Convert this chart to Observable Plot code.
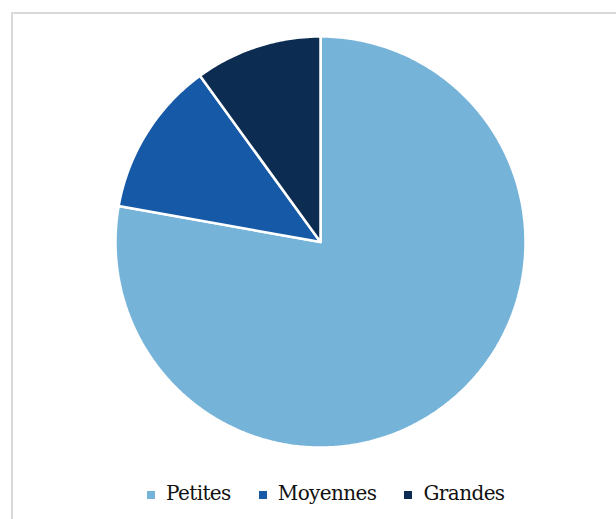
<!DOCTYPE html>
<html>
<head>
<meta charset="utf-8">
<script src="https://cdn.jsdelivr.net/npm/d3@7"></script>
<script src="https://cdn.jsdelivr.net/npm/@observablehq/plot@0.6"></script>
<style>
  html, body { margin: 0; padding: 0; background: #fff; }
  #wrap { position: relative; width: 616px; height: 519px; overflow: hidden; background: #fff; }
  #chart svg { position: absolute; left: 0; top: 0; }
  #frame { position: absolute; left: 11px; top: 12px; right: -10px; bottom: -10px;
           border-top: 2px solid #d9d9d9; border-left: 2px solid #d9d9d9; pointer-events: none; }
  #legend { position: absolute; left: 147px; top: 481px; display: flex; align-items: center;
            font-family: "DejaVu Serif", serif; font-size: 20px; color: #111; white-space: nowrap; letter-spacing: -0.6px; }
  .item { display: flex; align-items: center; margin-right: 28px; }
  .sw { width: 8px; height: 8px; margin-right: 11px; margin-top: 3px; }
</style>
</head>
<body>
<div id="wrap">
  <div id="chart"></div>
  <div id="frame"></div>
  <div id="legend"></div>
</div>
<script>
const categories = ["Petites", "Moyennes", "Grandes"];
const values = [77.8, 12.2, 10.0];
const colors = ["#75b3d9", "#1559a7", "#0d2c51"];

// Build slice outlines from the pie layout (angles clockwise from 12 o'clock)
const arcs = d3.pie().sort(null).value(d => d.value)(
  categories.map((c, i) => ({category: c, value: values[i]}))
);
const pts = [];
for (const a of arcs) {
  const cat = a.data.category;
  pts.push({category: cat, x: 0, y: 0});
  const n = Math.max(2, Math.ceil((a.endAngle - a.startAngle) / (Math.PI / 360)));
  for (let k = 0; k <= n; k++) {
    const t = a.startAngle + (a.endAngle - a.startAngle) * k / n;
    pts.push({category: cat, x: Math.sin(t), y: Math.cos(t)});
  }
  pts.push({category: cat, x: 0, y: 0});
}

const chart = Plot.plot({
  width: 616,
  height: 470,
  marginLeft: 115,
  marginRight: 91,
  marginTop: 36,
  marginBottom: 23,
  x: {domain: [-1, 1], axis: null},
  y: {domain: [-1, 1], axis: null},
  color: {domain: categories, range: colors},
  style: {background: "transparent"},
  marks: [
    Plot.line(pts, {x: "x", y: "y", z: "category", fill: "category",
                    stroke: "white", strokeWidth: 2.5, strokeLinejoin: "miter", curve: "linear"})
  ]
});
document.getElementById("chart").append(chart);

const legend = document.getElementById("legend");
categories.forEach((c, i) => {
  const item = document.createElement("div");
  item.className = "item";
  const sw = document.createElement("span");
  sw.className = "sw";
  sw.style.background = chart.scale("color").apply(c);
  const lab = document.createElement("span");
  lab.textContent = c;
  item.append(sw, lab);
  legend.append(item);
});
</script>
</body>
</html>
